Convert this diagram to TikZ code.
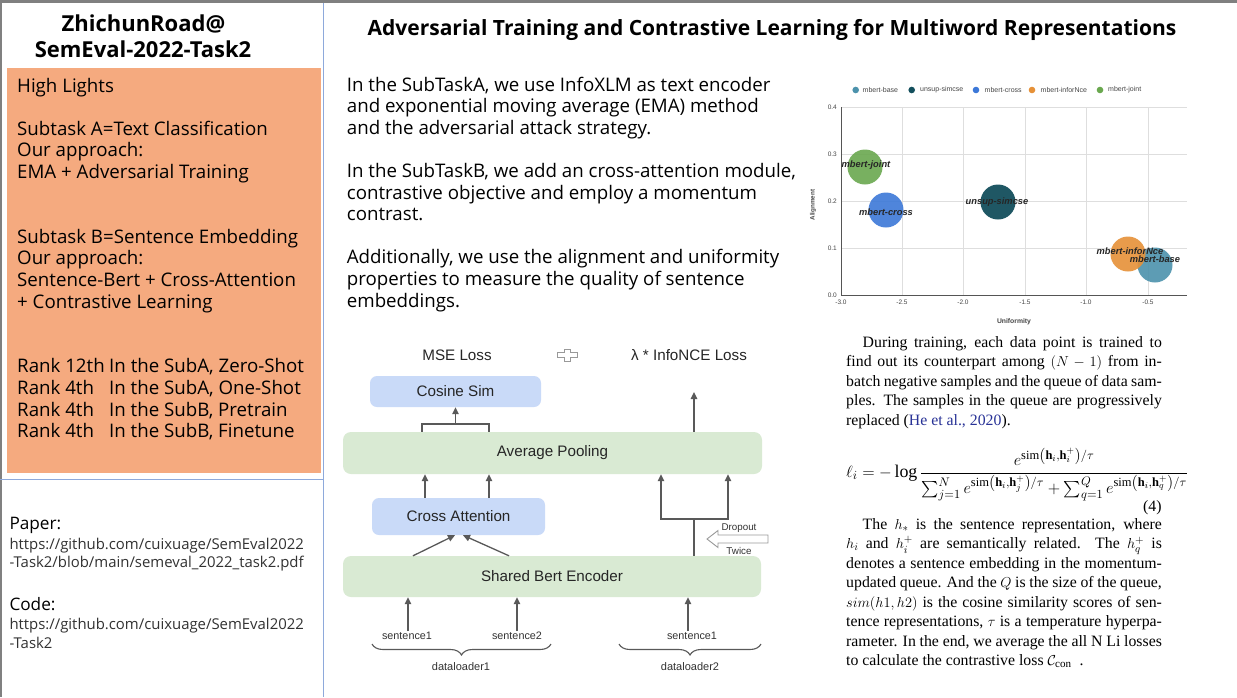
\documentclass[tikz,border=0pt]{standalone}
\usepackage{amsmath}
\usepackage{fontspec}
\setmainfont{Liberation Serif}
\newfontfamily\osf{Open Sans}
\newfontfamily\arf{Liberation Sans}
\usetikzlibrary{arrows.meta,decorations.pathreplacing}
\definecolor{hlorange}{RGB}{245,170,127}
\definecolor{framegray}{RGB}{128,128,128}
\definecolor{lineblue}{RGB}{142,169,219}
\definecolor{boxblue}{RGB}{201,218,248}
\definecolor{boxgreen}{RGB}{217,234,211}
\definecolor{arrgray}{RGB}{89,89,89}
\definecolor{citeblue}{RGB}{40,50,150}
\definecolor{cbase}{RGB}{76,146,172}
\definecolor{csimcse}{RGB}{19,79,92}
\definecolor{ccross}{RGB}{60,120,216}
\definecolor{cinfo}{RGB}{230,145,56}
\definecolor{cjoint}{RGB}{106,168,79}
\definecolor{gridgray}{RGB}{222,222,222}
\definecolor{axgray}{RGB}{85,85,85}
\definecolor{urlgray}{RGB}{50,50,50}
\definecolor{chartlbl}{RGB}{70,70,70}
\begin{document}
\begin{tikzpicture}[x=1pt,y=-1pt,
  conn/.style={draw=arrgray, line width=1.3pt},
  arr/.style={conn, -{Triangle[length=7pt,width=6.5pt]}},
  archfont/.style={font={\arf\fontsize{15.2}{18}\selectfont}, text=black!85},
  bluebox/.style={fill=boxblue, rounded corners=7pt, inner sep=0pt, archfont},
  greenbox/.style={fill=boxgreen, rounded corners=8pt, inner sep=0pt, archfont},
  smalllbl/.style={font={\arf\fontsize{10.8}{12}\selectfont}, text=black!80, inner sep=1pt},
  ticklbl/.style={font={\arf\fontsize{6.5}{7}\selectfont}, text=chartlbl, inner sep=0pt},
  legendlbl/.style={font={\arf\fontsize{7}{8}\selectfont}, text=chartlbl, anchor=west, inner sep=0pt},
  bubblelbl/.style={font={\arf\bfseries\itshape\fontsize{9.3}{10}\selectfont}, text=black!85, inner sep=0pt},
  bracedec/.style={conn, line width=1.1pt, decorate, decoration={brace, mirror, amplitude=11pt}}
]
\useasboundingbox (0,0) rectangle (1237,697);
\fill[white] (0,0) rectangle (1237,697);
% ---------- frame ----------
\fill[framegray] (0,0) rectangle (1237,3);
\fill[framegray] (0,0) rectangle (2,697);
\draw[lineblue, line width=1pt] (323,3) -- (323,697);
\draw[lineblue, line width=1pt] (0,479.5) -- (323,479.5);
\fill[hlorange] (7,68) rectangle (321,472.5);

% ---------- left titles ----------
\node[anchor=base, inner sep=0, font={\osf\bfseries\fontsize{22}{26}\selectfont}] (lt1) at (143.5,31) {ZhichunRoad@};
\node[anchor=base, inner sep=0, font={\osf\bfseries\fontsize{22}{26}\selectfont}] (lt2) at (143,57.5) {SemEval-2022-Task2};

% ---------- highlights ----------
\node[anchor=base west, inner sep=0] (hl) at (17,92) {\begin{minipage}[t]{300pt}\osf\fontsize{18.7}{21.6}\selectfont
High Lights\\
\mbox{}\\
Subtask A=Text Classification\\
Our approach:\\
EMA + Adversarial Training\\
\mbox{}\\
\mbox{}\\
Subtask B=Sentence Embedding\\
Our approach:\\
Sentence-Bert + Cross-Attention\\
+ Contrastive Learning\\
\mbox{}\\
\mbox{}\\
\makebox[92pt][l]{Rank 12th}In the SubA, Zero-Shot\\
\makebox[92pt][l]{Rank 4th}In the SubA, One-Shot\\
\makebox[92pt][l]{Rank 4th}In the SubB, Pretrain\\
\makebox[92pt][l]{Rank 4th}In the SubB, Finetune
\end{minipage}};

% ---------- paper / code ----------
\node[anchor=base west, inner sep=0, font={\osf\fontsize{17.2}{20}\selectfont}] (paper) at (9.3,529.3) {Paper:};
\node[anchor=base west, inner sep=0, text=urlgray] (paperurl) at (9.3,549) {\begin{minipage}[t]{310pt}\osf\fontsize{14.9}{18.3}\selectfont
https://github.com/cuixuage/SemEval2022\\
-Task2/blob/main/semeval\_2022\_task2.pdf
\end{minipage}};
\node[anchor=base west, inner sep=0, font={\osf\fontsize{17.2}{20}\selectfont}] (code) at (9.3,610) {Code:};
\node[anchor=base west, inner sep=0, text=urlgray] (codeurl) at (9.3,629.3) {\begin{minipage}[t]{310pt}\osf\fontsize{14.9}{19}\selectfont
https://github.com/cuixuage/SemEval2022\\
-Task2
\end{minipage}};

% ---------- main title ----------
\node[anchor=base, inner sep=0, font={\osf\bfseries\fontsize{21}{24}\selectfont}] (title) at (772,35) {Adversarial Training and Contrastive Learning for Multiword Representations};

% ---------- middle text ----------
\node[anchor=base west, inner sep=0] (mid) at (346.7,91) {\begin{minipage}[t]{460pt}\osf\fontsize{18.7}{21.6}\selectfont
In the SubTaskA, we use InfoXLM as text encoder\\
and exponential moving average (EMA) method\\
and the adversarial attack strategy.\\
\mbox{}\\
In the SubTaskB, we add an cross-attention module,\\
contrastive objective and employ a momentum\\
contrast.\\
\mbox{}\\
Additionally, we use the alignment and uniformity\\
properties to measure the quality of sentence\\
embeddings.
\end{minipage}};

% ---------- chart ----------
\foreach \gx in {902,963,1025,1086,1148} \draw[gridgray, line width=0.8pt] (\gx,107) -- (\gx,295);
\foreach \gy in {107,154,201,248} \draw[gridgray, line width=0.8pt] (841,\gy) -- (1187,\gy);
\draw[axgray, line width=0.9pt] (841,107) -- (841,295) -- (1187,295);
\foreach \gy/\lab in {107/0.4,154/0.3,201/0.2,248/0.1,295/0.0} \node[ticklbl, anchor=east] at (837,\gy) {\lab};
\foreach \gx/\lab in {841/-3.0,902/-2.5,963/-2.0,1025/-1.5,1086/-1.0,1148/-0.5} \node[ticklbl, anchor=north] at (\gx,300) {\lab};
\node[ticklbl, font={\arf\bfseries\fontsize{6.8}{7}\selectfont}] (xtitle) at (1014,322) {Uniformity};
\node[ticklbl, font={\arf\bfseries\fontsize{6.3}{7}\selectfont}, rotate=90] (ytitle) at (813,205) {Alignment};
% legend
\fill[cbase] (855.7,90) circle[radius=3.3pt];
\node[legendlbl] at (862.5,90) {mbert-base};
\fill[csimcse] (911.7,90) circle[radius=3.3pt];
\node[legendlbl] at (920,90) {unsup-simcse};
\fill[ccross] (976,90) circle[radius=3.3pt];
\node[legendlbl] at (984.5,90) {mbert-cross};
\fill[cinfo] (1032,90) circle[radius=3.3pt];
\node[legendlbl] at (1040.5,90) {mbert-inforNce};
\fill[cjoint] (1100,90) circle[radius=3.3pt];
\node[legendlbl] at (1108,90) {mbert-joint};
% bubbles
\fill[cbase, fill opacity=0.9] (1155,265) circle[radius=17.5pt];
\fill[csimcse, fill opacity=0.95] (998,202) circle[radius=17.5pt];
\fill[ccross, fill opacity=0.9] (886,210) circle[radius=17.5pt];
\fill[cinfo, fill opacity=0.9] (1128,254) circle[radius=17.5pt];
\fill[cjoint, fill opacity=0.9] (865,167) circle[radius=17.5pt];
\node[bubblelbl] at (866,165) {mbert-joint};
\node[bubblelbl] at (886,212) {mbert-cross};
\node[bubblelbl] at (997,202) {unsup-simcse};
\node[bubblelbl] at (1130,251) {mbert-inforNce};
\node[bubblelbl] at (1155,259) {mbert-base};

% ---------- architecture diagram ----------
\node[archfont, inner sep=0] (mse) at (457,355) {MSE Loss};
\node[archfont, inner sep=0] (nce) at (689,355) {λ * InfoNCE Loss};
\draw[draw=black!40, fill=white, line width=0.9pt] (557,352.5) -- (564,352.5) -- (564,349) -- (570,349) -- (570,352.5) -- (577,352.5) -- (577,357.5) -- (570,357.5) -- (570,361) -- (564,361) -- (564,357.5) -- (557,357.5) -- cycle;

\node[bluebox, minimum width=171pt, minimum height=31pt] (cos) at (455.5,391.5) {Cosine Sim};
\node[greenbox, minimum width=419pt, minimum height=42pt] (avg) at (552.5,453) {Average Pooling};
\node[bluebox, minimum width=173pt, minimum height=37pt] (cross) at (458.5,516.5) {Cross Attention};
\node[greenbox, minimum width=418pt, minimum height=41pt] (bert) at (552,576.5) {Shared Bert Encoder};

% avg -> cos bracket
\draw[conn] (avg.north -| 422,0) -- (422,424) -- (489,424) -- (avg.north -| 489,0);
\draw[arr] (cos.south |- 0,424) -- (cos.south);
% avg -> InfoNCE
\coordinate (ncetop) at (694,392);
\draw[arr] (avg.north -| 694,0) -- (ncetop);
% cross -> avg
\draw[arr] (cross.north -| 425,0) -- (avg.south -| 425,0);
\draw[arr] (cross.north -| 489,0) -- (avg.south -| 489,0);
% bert -> cross
\draw[arr] (bert.north -| 413,0) -- (cross.south -| 455,0);
\draw[arr] (bert.north -| 509,0) -- (cross.south -| 463,0);
% bert -> avg (dropout twice)
\coordinate (split) at (694,519);
\draw[conn] (bert.north -| 694,0) -- (split);
\draw[arr] (split) -| (avg.south -| 661,0);
\draw[arr] (split) -| (avg.south -| 728,0);
% dropout arrow
\draw[draw=black!40, fill=white, line width=0.9pt] (707,539) -- (718,530.5) -- (718,535) -- (768,535) -- (768,543) -- (718,543) -- (718,547.5) -- cycle;
\node[font={\arf\fontsize{9.8}{11}\selectfont}, text=black!80, inner sep=0] (dropout) at (739,528) {Dropout};
\node[font={\arf\fontsize{9.8}{11}\selectfont}, text=black!80, inner sep=0] (twice) at (739,551) {Twice};

% inputs
\node[smalllbl] (s1) at (407,636) {sentence1};
\node[smalllbl] (s2) at (517,636) {sentence2};
\node[smalllbl] (s3) at (692,636) {sentence1};
\draw[arr] (s1.north -| 408,0) -- (bert.south -| 408,0);
\draw[arr] (s2.north -| 517,0) -- (bert.south -| 517,0);
\draw[arr] (s3.north -| 688,0) -- (bert.south -| 688,0);
\coordinate (b1l) at (372,644);
\coordinate (b1r) at (551,644);
\coordinate (b2l) at (619,644);
\coordinate (b2r) at (761,644);
\draw[bracedec] (b1l) -- (b1r);
\draw[bracedec] (b2l) -- (b2r);
\node[smalllbl, font={\arf\fontsize{11}{12}\selectfont}] (dl1) at (461,667) {dataloader1};
\node[smalllbl, font={\arf\fontsize{11}{12}\selectfont}] (dl2) at (690,667) {dataloader2};

% ---------- right text ----------
\node[anchor=base west, inner sep=0] (para1) at (846,347) {\begin{minipage}[t]{315.7pt}\fontsize{15.8}{19.5}\selectfont
\makebox[\linewidth][s]{\hspace*{16.5pt}During training, each data point is trained to}\\
\makebox[\linewidth][s]{find out its counterpart among $(N-1)$ from in-}\\
\makebox[\linewidth][s]{batch negative samples and the queue of data sam-}\\
\makebox[\linewidth][s]{ples. The samples in the queue are progressively}\\
replaced ({\color{citeblue}He et al., 2020}).
\end{minipage}};

\node[anchor=base west, inner sep=0, font={\fontsize{15.8}{19.5}\selectfont}] (eq) at (846,477) {\resizebox{342pt}{!}{$\displaystyle \ell_i = -\log \frac{e^{\mathrm{sim}\left(\mathbf{h}_i,\mathbf{h}_i^+\right)/\tau}}{\sum_{j=1}^{N} e^{\mathrm{sim}\left(\mathbf{h}_i,\mathbf{h}_j^+\right)/\tau} + \sum_{q=1}^{Q} e^{\mathrm{sim}\left(\mathbf{h}_i,\mathbf{h}_q^+\right)/\tau}}$}};
\node[anchor=base east, inner sep=0, font={\fontsize{15.8}{19.5}\selectfont}] (eqno) at (1161.7,511.7) {(4)};

\node[anchor=base west, inner sep=0] (para2) at (846,529) {\begin{minipage}[t]{315.7pt}\fontsize{15.8}{19.5}\selectfont
\makebox[\linewidth][s]{\hspace*{16.5pt}The $h_*$ is the sentence representation, where}\\
\makebox[\linewidth][s]{$h_i$ and $h_i^+$ are semantically related.\ \ The $h_q^+$ is}\\
\makebox[\linewidth][s]{denotes a sentence embedding in the momentum-}\\
\makebox[\linewidth][s]{updated queue. And the $Q$ is the size of the queue,}\\
\makebox[\linewidth][s]{$sim(h1,h2)$ is the cosine similarity scores of sen-}\\
\makebox[\linewidth][s]{tence representations, $\tau$ is a temperature hyperpa-}\\
\makebox[\linewidth][s]{rameter. In the end, we average the all N Li losses}\\
to calculate the contrastive loss $\mathcal{C}_{\mathrm{con}}$\ \ .
\end{minipage}};
\end{tikzpicture}
\end{document}
